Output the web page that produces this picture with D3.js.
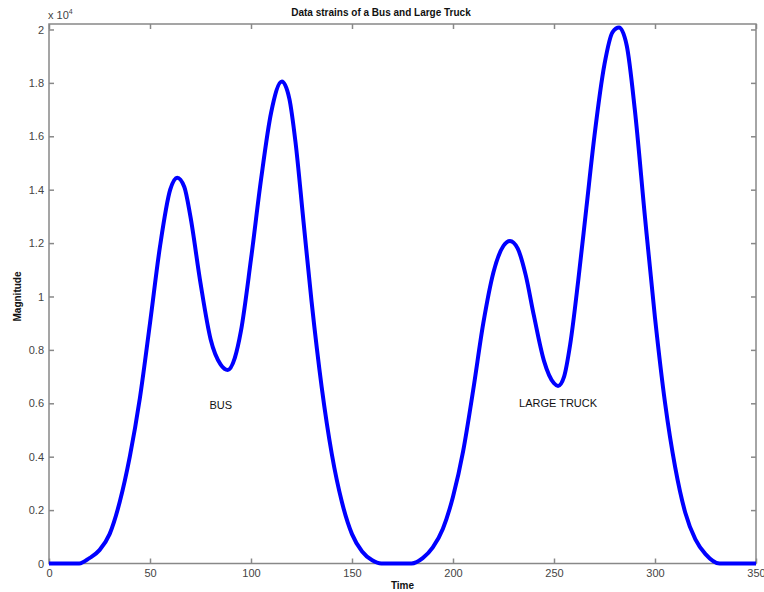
<!DOCTYPE html>
<html>
<head>
<meta charset="utf-8">
<script src="https://cdn.jsdelivr.net/npm/d3@7"></script>
<style>
  body { margin: 0; background: #fff; }
  svg text { font-family: "Liberation Sans", Arial, sans-serif; }
</style>
</head>
<body>
<div id="chart"></div>
<script>
// values (magnitude in units of 1e4)
var busTime = [0, 10, 15, 20, 25, 30, 35, 40, 45, 50, 55, 60, 63.5, 67, 70, 75, 80, 85, 88.5, 92, 95, 100, 105, 110, 115.3, 119, 122, 126, 130, 135, 140, 145, 150, 155, 160, 164.5];
var busMag  = [0, 0, 0, 0.02, 0.05, 0.11, 0.23, 0.40, 0.62, 0.90, 1.19, 1.40, 1.445, 1.41, 1.30, 1.05, 0.84, 0.745, 0.725, 0.77, 0.87, 1.14, 1.44, 1.69, 1.805, 1.74, 1.58, 1.28, 0.98, 0.66, 0.41, 0.23, 0.11, 0.045, 0.012, 0];
var truckTime = [164.5, 179.5, 185, 190, 195, 200, 205, 210, 215, 220, 225, 228.2, 232, 236, 240, 245, 250, 252, 255, 258, 262, 266, 270, 275, 279, 282.2, 286, 290, 295, 300, 305, 310, 315, 320, 325, 332, 350];
var truckMag  = [0, 0, 0.02, 0.06, 0.13, 0.25, 0.42, 0.65, 0.90, 1.09, 1.19, 1.208, 1.18, 1.08, 0.93, 0.76, 0.675, 0.665, 0.70, 0.82, 1.06, 1.33, 1.60, 1.87, 1.99, 2.007, 1.94, 1.70, 1.30, 0.92, 0.60, 0.36, 0.19, 0.09, 0.035, 0, 0];
var xTicks = [0, 50, 100, 150, 200, 250, 300, 350];
var yTicks = [0, 0.2, 0.4, 0.6, 0.8, 1, 1.2, 1.4, 1.6, 1.8, 2];
var labels = [{text: "BUS", t: 85, v: 0.58}, {text: "LARGE TRUCK", t: 252, v: 0.585}];

var W = 764, H = 592;
var margin = {left: 49, right: 8, top: 24, bottom: 28.5};

var svg = d3.select("#chart").append("svg")
    .attr("width", W).attr("height", H);

var x = d3.scaleLinear().domain([0, 350]).range([margin.left, W - margin.right]);
var y = d3.scaleLinear().domain([0, 2.0205]).range([H - margin.bottom, margin.top]);

// box
svg.append("rect")
    .attr("x", x(0)).attr("y", y(2.0205))
    .attr("width", x(350) - x(0)).attr("height", y(0) - y(2.0205))
    .attr("fill", "none").attr("stroke", "#888").attr("stroke-width", 1.5);

function styleAxis(g) {
    g.select(".domain").remove();
    g.selectAll(".tick line").attr("stroke", "#888").attr("stroke-width", 1.5);
    g.selectAll(".tick text").attr("fill", "#444").attr("font-size", 11);
}

var fmtY = function(d) { return d3.format("")(+d.toFixed(1)); };

svg.append("g").attr("transform", "translate(0," + y(0) + ")")
    .call(d3.axisBottom(x).tickValues(xTicks).tickSize(-5).tickPadding(6))
    .call(styleAxis);
svg.append("g").attr("transform", "translate(0," + y(2.0205) + ")")
    .call(d3.axisTop(x).tickValues(xTicks).tickSize(-5).tickFormat(""))
    .call(styleAxis);
svg.append("g").attr("transform", "translate(" + x(0) + ",0)")
    .call(d3.axisLeft(y).tickValues(yTicks).tickSize(-5).tickPadding(5).tickFormat(fmtY))
    .call(styleAxis);
svg.append("g").attr("transform", "translate(" + x(350) + ",0)")
    .call(d3.axisRight(y).tickValues(yTicks).tickSize(-5).tickFormat(""))
    .call(styleAxis);

// exponent label
var ex = svg.append("text").attr("x", 48).attr("y", 19).attr("font-size", 11).attr("fill", "#444");
ex.append("tspan").text("x 10");
ex.append("tspan").attr("dy", -5).attr("font-size", 7).text("4");

// line data
var line = d3.line()
    .x(function(d) { return x(d[0]); })
    .y(function(d) { return y(d[1]); })
    .curve(d3.curveMonotoneX);

var pts = d3.zip(busTime, busMag).concat(d3.zip(truckTime, truckMag).slice(1));
svg.append("path").datum(pts)
    .attr("d", line)
    .attr("fill", "none").attr("stroke", "#0000ff").attr("stroke-width", 4)
    .attr("stroke-linejoin", "round");

svg.selectAll("text.lbl").data(labels).enter().append("text")
    .attr("class", "lbl")
    .attr("x", function(d) { return x(d.t); })
    .attr("y", function(d) { return y(d.v); })
    .attr("text-anchor", "middle").attr("font-size", 11).attr("fill", "#111")
    .text(function(d) { return d.text; });

svg.append("text").attr("x", 381).attr("y", 16).attr("text-anchor", "middle")
    .attr("font-size", 10).attr("font-weight", "bold").attr("fill", "#111")
    .text("Data strains of a Bus and Large Truck");

svg.append("text").attr("x", x(175)).attr("y", 589).attr("text-anchor", "middle")
    .attr("font-size", 10).attr("font-weight", "bold").attr("fill", "#111")
    .text("Time");

svg.append("text").attr("transform", "translate(21," + y(1) + ") rotate(-90)")
    .attr("text-anchor", "middle")
    .attr("font-size", 10).attr("font-weight", "bold").attr("fill", "#111")
    .text("Magnitude");
</script>
</body>
</html>
